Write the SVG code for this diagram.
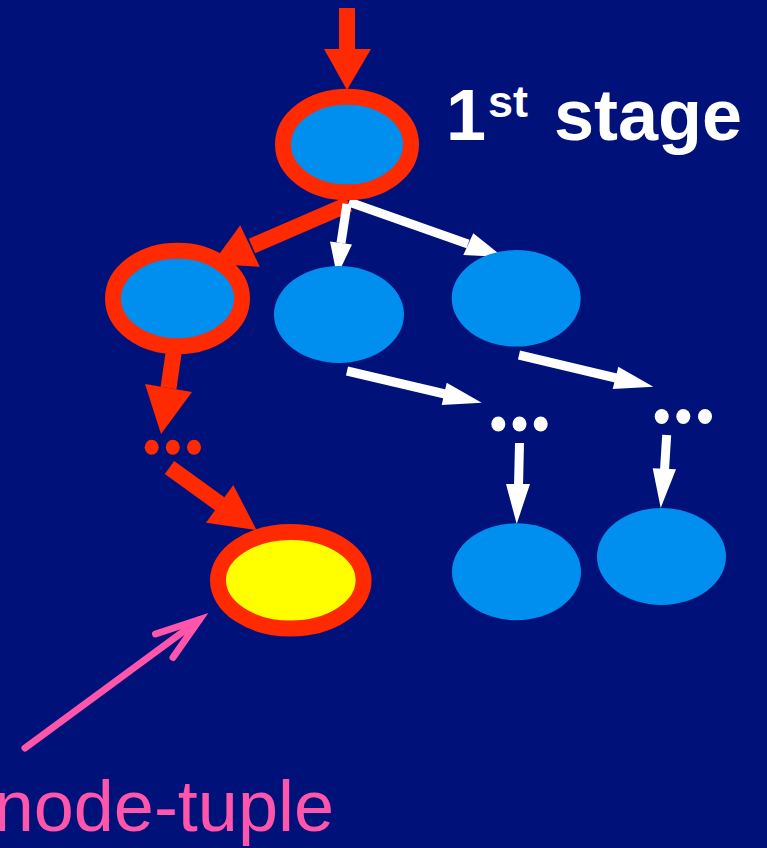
<svg xmlns="http://www.w3.org/2000/svg" width="767" height="848" viewBox="0 0 767 848">
  <style>
    .bg { fill: #00127A; }
    .node { fill: #008EEF; }
    .hot { stroke: #FF2A00; stroke-width: 16; }
    .goal { fill: #FFFF00; }
    .red-shaft { stroke: #FF2A00; stroke-width: 16; fill: none; }
    .red-head { fill: #FF2A00; }
    .white-shaft { stroke: #FFFFFF; stroke-width: 9; fill: none; }
    .white-head { fill: #FFFFFF; }
    .dot-w { fill: #FFFFFF; }
    .dot-r { fill: #FF2A00; }
    .pointer { stroke: #FF55AA; stroke-width: 7; fill: none; stroke-linecap: round; }
    .label { font-family: "Liberation Sans", Arial, Helvetica, sans-serif; }
  </style>

  <rect class="bg" x="0" y="0" width="767" height="848"/>

  <!-- connectors: drawn first so the nodes sit on top of the arrow tips -->
  <g id="connectors">
    <!-- entry arrow into the root -->
    <line class="red-shaft" x1="347" y1="8" x2="347" y2="50"/>
    <polygon class="red-head" points="324,49 371,49 347,90"/>
    <!-- root to left child (selected path) -->
    <line class="red-shaft" x1="349" y1="204" x2="252" y2="246"/>
    <polygon class="red-head" points="240.2,225.2 259.8,266.8 212,264"/>
    <!-- root to middle child -->
    <line class="white-shaft" x1="347" y1="204" x2="341" y2="243"/>
    <polygon class="white-head" points="330,241.5 352,244.5 337,276"/>
    <!-- root to right child -->
    <line class="white-shaft" x1="349" y1="202" x2="468" y2="244"/>
    <polygon class="white-head" points="473.3,233.3 463.3,255 503,257"/>
    <!-- left child down to the ellipsis (selected path) -->
    <line class="red-shaft" x1="174" y1="350" x2="168.5" y2="388"/>
    <polygon class="red-head" points="145,384 192,392 161,434"/>
    <!-- ellipsis to the goal node (selected path) -->
    <line class="red-shaft" x1="169.5" y1="467.5" x2="220" y2="504"/>
    <polygon class="red-head" points="206,522.7 233.3,485 256.5,530"/>
    <!-- middle child to its ellipsis -->
    <line class="white-shaft" x1="347" y1="371" x2="445" y2="394"/>
    <polygon class="white-head" points="446.7,382.7 441.7,405 481.7,402.7"/>
    <!-- right child to its ellipsis -->
    <line class="white-shaft" x1="519" y1="355" x2="616" y2="378"/>
    <polygon class="white-head" points="618.3,366.7 612.7,389 653.3,386.7"/>
    <!-- ellipsis to bottom nodes -->
    <line class="white-shaft" x1="519.5" y1="443" x2="518.5" y2="486"/>
    <polygon class="white-head" points="506,484 530,484 516.7,524"/>
    <line class="white-shaft" x1="666.7" y1="435" x2="664.5" y2="470"/>
    <polygon class="white-head" points="652.7,468.3 676,469.3 660.7,508"/>
  </g>

  <!-- ellipsis markers -->
  <g id="dots-left">
    <ellipse class="dot-r" cx="151.7" cy="447.3" rx="7" ry="7.5"/>
    <ellipse class="dot-r" cx="172.8" cy="447.3" rx="7" ry="7.5"/>
    <ellipse class="dot-r" cx="194" cy="447.3" rx="7" ry="7.5"/>
  </g>
  <g id="dots-mid">
    <ellipse class="dot-w" cx="498.3" cy="424" rx="7" ry="7.5"/>
    <ellipse class="dot-w" cx="519.5" cy="424" rx="7" ry="7.5"/>
    <ellipse class="dot-w" cx="540.7" cy="424" rx="7" ry="7.5"/>
  </g>
  <g id="dots-right">
    <ellipse class="dot-w" cx="661.7" cy="416.5" rx="7" ry="7.5"/>
    <ellipse class="dot-w" cx="683.3" cy="416.5" rx="7" ry="7.5"/>
    <ellipse class="dot-w" cx="705" cy="416.5" rx="7" ry="7.5"/>
  </g>

  <!-- nodes -->
  <g id="root">
    <ellipse class="node hot" cx="347" cy="144.5" rx="64" ry="47.8"/>
  </g>
  <g id="left-child">
    <ellipse class="node hot" cx="177.5" cy="298.5" rx="64.5" ry="47.8"/>
  </g>
  <g id="middle-child">
    <ellipse class="node" cx="339" cy="314.5" rx="65" ry="48.5"/>
  </g>
  <g id="right-child">
    <ellipse class="node" cx="516.2" cy="298.3" rx="64.5" ry="48.3"/>
  </g>
  <g id="bottom-middle">
    <ellipse class="node" cx="516.5" cy="571.8" rx="64.5" ry="48.5"/>
  </g>
  <g id="bottom-right">
    <ellipse class="node" cx="661.5" cy="556.5" rx="64.5" ry="48.5"/>
  </g>
  <g id="goal">
    <ellipse class="goal hot" cx="290.8" cy="580.3" rx="72.8" ry="48.3"/>
  </g>

  <!-- stage label -->
  <g id="stage-label">
    <text class="label" fill="#FFFFFF" font-weight="bold" font-size="72"><tspan x="446" y="140">1</tspan><tspan x="488" y="117" font-size="45">st</tspan><tspan x="554" y="140">stage</tspan></text>
  </g>

  <!-- annotation pointing at the goal node -->
  <g id="annotation">
    <line class="pointer" x1="25" y1="748" x2="199" y2="620"/>
    <polyline class="pointer" points="155.5,634 199.5,619.5 173,657.5" stroke-linejoin="miter"/>
    <text class="label" fill="#FF55AA" font-size="72" text-anchor="end" x="334" y="831">node-tuple</text>
  </g>
</svg>
